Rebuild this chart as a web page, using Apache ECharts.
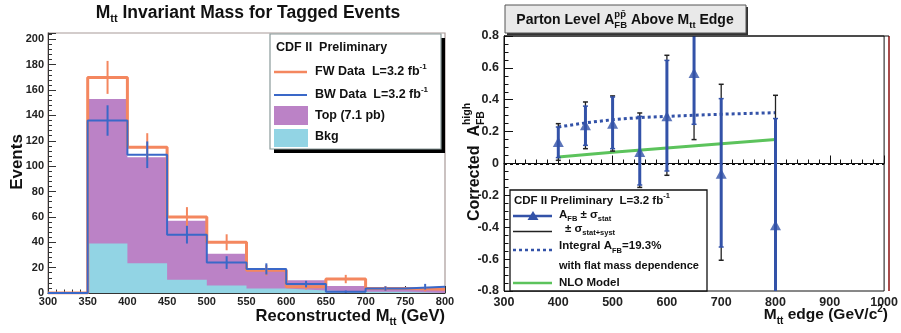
<!DOCTYPE html>
<html><head><meta charset="utf-8">
<script src="https://cdn.jsdelivr.net/npm/echarts@6/dist/echarts.min.js"></script>
<style>html,body{margin:0;padding:0;background:#fff}#c{width:901px;height:333px}</style>
</head><body><div id="c"></div>
<script>
// ---------- Left panel data (histograms, 50 GeV bins) ----------
const binEdges   = [300,350,400,450,500,550,600,650,700,750,800];
const fwCounts   = [0,170,115,60,40,18,5,11,3.5,3];
const fwErr      = [0,13,11,7.7,6.3,4.2,2.2,3.3,1.9,1.7];
const bwCounts   = [0,136,109,46,24,19,7,1,3.5,5];
const bwErr      = [0,12,10.5,7,5,4.4,2.6,1,1.7,2.2];
const topCounts  = [0,114,83.5,46.5,25,15.5,8,4.5,2.5,2.5];
const bkgCounts  = [0,39,23.5,10.5,6,3.5,2,1,1,0.5];
const leftYTicks = [0,20,40,60,80,100,120,140,160,180,200];

// ---------- Right panel data ----------
const edgeMass = [400,450,500,550,600,650,700,800];
const afb      = [0.135,0.24,0.25,0.072,0.296,0.568,-0.064,-0.388];
const statLo   = [0.037,0.114,0.093,-0.135,-0.047,0.246,-0.524,-0.85];
const statHi   = [0.229,0.36,0.417,0.296,0.647,0.85,0.407,0.282];
const systLo   = [0.02,0.093,0.078,-0.15,-0.074,0.15,-0.607,-0.9];
const systHi   = [0.25,0.386,0.424,0.317,0.679,0.95,0.497,0.428];
const integralX = [400,450,500,550,600,650,700,750,800];
const integralY = [0.229,0.255,0.275,0.288,0.296,0.303,0.309,0.314,0.319];
const nloX = [400,500,600,700,800];
const nloY = [0.041,0.07,0.098,0.124,0.15];

const FONT = '"Liberation Sans", Arial, Helvetica, sans-serif';
const ORANGE = '#f4875f', BLUE_H = '#3a68c8', MAG = '#bb82c6', CYAN = '#92d4e4';
const BLUE = '#3352a8', GREEN = '#5cc35c';

const cv = document.createElement('canvas').getContext('2d');
function tw(t, fs){ cv.font = 'bold ' + fs + 'px ' + FONT; return cv.measureText(t).width; }
// composite text: parts [{t, fs, dy, stack}]
function comp(parts, x, y, opts){
  opts = opts || {};
  const af = opts.align === 'right' ? 1 : (opts.align === 'center' ? 0.5 : 0);
  let cx = 0, prevStart = 0, prevW = 0; const items = [];
  parts.forEach(p => {
    const w = tw(p.t, p.fs); let start;
    if (p.stack) { start = prevStart; prevW = Math.max(prevW, w); cx = prevStart + prevW; }
    else { start = cx; cx += w; prevStart = start; prevW = w; }
    items.push({p, start});
  });
  const total = cx;
  const children = items.map(({p, start}) => ({
    type: 'text', x: start - total * af, y: p.dy || 0, z: 120,
    style: { text: p.t, font: 'bold ' + p.fs + 'px ' + FONT, fill: opts.color || '#111', align: 'left', verticalAlign: 'middle' }
  }));
  return { type: 'group', x, y, rotation: opts.rotation || 0, children, z: 120 };
}

function stepData(vals){
  const d = [];
  for (let i = 0; i < vals.length; i++) d.push([binEdges[i], vals[i]]);
  d.push([binEdges[vals.length], vals[vals.length - 1]]);
  return d;
}
const totalCounts = topCounts.map((v, i) => v + bkgCounts[i]);
const centers = binEdges.slice(0, -1).map((e, i) => (e + binEdges[i + 1]) / 2);

function errBar(color, vals, errs){
  return {
    type: 'custom', xAxisIndex: 0, yAxisIndex: 0, z: 6,
    data: centers.map((c, i) => [c, vals[i], errs[i]]),
    renderItem: (params, api) => {
      const x = api.value(0), v = api.value(1), e = api.value(2);
      if (!e) return null;
      const a = api.coord([x, v - e]), b = api.coord([x, v + e]);
      return { type: 'line', shape: { x1: a[0], y1: a[1], x2: b[0], y2: b[1] }, style: { stroke: color, lineWidth: 2 } };
    }
  };
}
function rangeBar(color, lo, hi, width, cap){
  return {
    type: 'custom', xAxisIndex: 1, yAxisIndex: 1, z: 5,
    data: edgeMass.map((m, i) => [m, lo[i], hi[i]]),
    renderItem: (params, api) => {
      const cs = params.coordSys;
      const x = api.value(0);
      const a = api.coord([x, api.value(1)]), b = api.coord([x, api.value(2)]);
      const yB = Math.min(a[1], cs.y + cs.height), yT = Math.max(b[1], cs.y);
      const ch = [{ type: 'line', shape: { x1: a[0], y1: yB, x2: a[0], y2: yT }, style: { stroke: color, lineWidth: width } }];
      if (a[1] <= cs.y + cs.height) ch.push({ type: 'line', shape: { x1: a[0] - cap, y1: yB, x2: a[0] + cap, y2: yB }, style: { stroke: color, lineWidth: 1.5 } });
      if (b[1] >= cs.y) ch.push({ type: 'line', shape: { x1: a[0] - cap, y1: yT, x2: a[0] + cap, y2: yT }, style: { stroke: color, lineWidth: 1.5 } });
      return { type: 'group', children: ch };
    }
  };
}

const chart = echarts.init(document.getElementById('c'), null, { renderer: 'canvas' });
const axLabL = { fontFamily: FONT, fontWeight: 'bold', fontSize: 11, color: '#222' };
const axLabR = { fontFamily: FONT, fontWeight: 'bold', fontSize: 12.5, color: '#222' };

const graphics = [
  // left title
  comp([{t:'M',fs:17.5},{t:'tt',fs:11,dy:6},{t:' Invariant Mass for Tagged Events',fs:17.5}], 248, 13, {align:'center'}),
  // left axis names
  comp([{t:'Reconstructed M',fs:16.5},{t:'tt',fs:10.5,dy:6},{t:' (GeV)',fs:16.5}], 445, 316, {align:'right'}),
  comp([{t:'Events',fs:17}], 17, 162, {align:'center', rotation: Math.PI/2}),
  // left legend
  { type:'rect', shape:{x:274,y:38,width:171,height:115}, style:{fill:'#000'}, z:90 },
  { type:'rect', shape:{x:270,y:34,width:171,height:115}, style:{fill:'#fff', stroke:'#8a9a9a', lineWidth:1.2}, z:91 },
  comp([{t:'CDF II  Preliminary',fs:12.5}], 276, 48),
  { type:'line', shape:{x1:274,y1:72,x2:307,y2:72}, style:{stroke:ORANGE,lineWidth:2.5}, z:100 },
  comp([{t:'FW Data  L=3.2 fb',fs:12.5},{t:'-1',fs:8,dy:-5}], 315, 72),
  { type:'line', shape:{x1:274,y1:95,x2:307,y2:95}, style:{stroke:BLUE_H,lineWidth:2}, z:100 },
  comp([{t:'BW Data  L=3.2 fb',fs:12.5},{t:'-1',fs:8,dy:-5}], 315, 95),
  { type:'rect', shape:{x:274,y:106,width:34,height:19}, style:{fill:MAG}, z:100 },
  comp([{t:'Top (7.1 pb)',fs:12.5}], 315, 116),
  { type:'rect', shape:{x:274,y:129,width:34,height:18}, style:{fill:CYAN}, z:100 },
  comp([{t:'Bkg',fs:12.5}], 315, 137),
  // right title box
  { type:'rect', shape:{x:507,y:7,width:241,height:28}, style:{fill:'#333'}, z:90 },
  { type:'rect', shape:{x:505,y:5,width:241,height:28}, style:{fill:'#e9e9e9', stroke:'#555', lineWidth:1}, z:91 },
  comp([{t:'Parton Level A',fs:14},{t:'pp\u0304',fs:9.5,dy:-6},{t:'FB',fs:9.5,dy:5,stack:true},{t:' Above M',fs:14},{t:'tt',fs:9.5,dy:5},{t:' Edge',fs:14}], 625, 20, {align:'center'}),
  // right axis names
  comp([{t:'M',fs:15.5},{t:'tt',fs:10,dy:6},{t:' edge (GeV/c',fs:15.5},{t:'2',fs:10,dy:-6},{t:')',fs:15.5}], 888, 315, {align:'right'}),
  comp([{t:'Corrected  A',fs:16},{t:'high',fs:10.5,dy:-8},{t:'FB',fs:10.5,dy:6,stack:true}], 475, 162, {align:'center', rotation: Math.PI/2}),
  // right frame edges
  { type:'line', shape:{x1:889,y1:36,x2:889,y2:291}, style:{stroke:'#8b1010',lineWidth:1.5}, z:80 },
  { type:'line', shape:{x1:504,y1:36,x2:889,y2:36}, style:{stroke:'#111',lineWidth:1}, z:80 },
  // right legend
  { type:'rect', shape:{x:510,y:190,width:197,height:101}, style:{fill:'#fff', stroke:'#111', lineWidth:1.3}, z:91 },
  comp([{t:'CDF II Preliminary  L=3.2 fb',fs:11.5},{t:'-1',fs:7.5,dy:-5}], 514, 201),
  { type:'line', shape:{x1:513,y1:216,x2:552,y2:216}, style:{stroke:BLUE,lineWidth:2.5}, z:100 },
  { type:'polygon', shape:{points:[[533,211],[527.5,220],[538.5,220]]}, style:{fill:BLUE}, z:101 },
  comp([{t:'A',fs:11.5},{t:'FB',fs:7.5,dy:4},{t:' \u00b1 \u03c3',fs:11.5},{t:'stat',fs:7.5,dy:4}], 559, 215),
  { type:'line', shape:{x1:513,y1:231.5,x2:552,y2:231.5}, style:{stroke:'#222',lineWidth:1.3}, z:100 },
  comp([{t:'\u00b1 \u03c3',fs:11.5},{t:'stat+syst',fs:7.5,dy:4}], 565, 229),
  { type:'line', shape:{x1:513,y1:250,x2:552,y2:250}, style:{stroke:BLUE,lineWidth:2.5,lineDash:[3,3]}, z:100 },
  comp([{t:'Integral A',fs:11.5},{t:'FB',fs:7.5,dy:5},{t:'=19.3%',fs:11.5}], 559, 246),
  comp([{t:'with flat mass dependence',fs:11}], 559, 266),
  { type:'line', shape:{x1:513,y1:283,x2:552,y2:283}, style:{stroke:GREEN,lineWidth:2.5}, z:100 },
  comp([{t:'NLO Model',fs:11.5}], 559, 283)
];

const option = {
  animation: false,
  backgroundColor: '#fff',
  grid: [
    { left: 48, top: 33, width: 397, height: 260, show: true, borderColor: '#a89a98', borderWidth: 1.2, backgroundColor: 'transparent' },
    { left: 504, top: 36, width: 385, height: 255, show: true, borderColor: '#111', borderWidth: 1, backgroundColor: 'transparent' }
  ],
  xAxis: [
    { type: 'value', gridIndex: 0, min: 300, max: 800, interval: 50,
      axisLine: { show: true, lineStyle: { color: '#333' } },
      axisTick: { inside: true, length: 7, lineStyle: { color: '#333' } },
      minorTick: { show: true, splitNumber: 5, length: 3.5, lineStyle: { color: '#333' } },
      splitLine: { show: false }, axisLabel: Object.assign({ margin: 3, formatter: v => String(v) }, axLabL) },
    { type: 'value', gridIndex: 1, min: 300, max: 1000, interval: 100,
      axisLine: { show: true, lineStyle: { color: '#111' } },
      axisTick: { inside: true, length: 8, lineStyle: { color: '#111' } },
      minorTick: { show: true, splitNumber: 5, length: 4, lineStyle: { color: '#111' } },
      splitLine: { show: false }, axisLabel: Object.assign({ margin: 5, formatter: v => String(v) }, axLabR) }
  ],
  yAxis: [
    { type: 'value', gridIndex: 0, min: 0, max: 205, interval: 20,
      axisLine: { show: true, lineStyle: { color: '#333' } },
      axisTick: { inside: true, length: 8, lineStyle: { color: '#333' } },
      minorTick: { show: true, splitNumber: 5, length: 4, lineStyle: { color: '#333' } },
      splitLine: { show: false },
      axisLabel: Object.assign({ margin: 4, formatter: v => leftYTicks.indexOf(v) >= 0 ? String(v) : '' }, axLabL) },
    { type: 'value', gridIndex: 1, min: -0.8, max: 0.8, interval: 0.2,
      axisLine: { show: true, lineStyle: { color: '#111' } },
      axisTick: { inside: true, length: 9, lineStyle: { color: '#111' } },
      minorTick: { show: true, splitNumber: 4, length: 4.5, lineStyle: { color: '#111' } },
      splitLine: { show: false },
      axisLabel: Object.assign({ margin: 5, formatter: v => { const r = Math.round(v * 10) / 10; return r === 0 ? '0' : String(r); } }, axLabR) }
  ],
  series: [
    { type: 'line', xAxisIndex: 0, yAxisIndex: 0, step: 'end', symbol: 'none', data: stepData(totalCounts),
      lineStyle: { width: 0 }, areaStyle: { color: MAG, opacity: 1 }, z: 2 },
    { type: 'line', xAxisIndex: 0, yAxisIndex: 0, step: 'end', symbol: 'none', data: stepData(bkgCounts),
      lineStyle: { width: 0 }, areaStyle: { color: CYAN, opacity: 1 }, z: 3 },
    { type: 'line', xAxisIndex: 0, yAxisIndex: 0, step: 'end', symbol: 'none', data: stepData(fwCounts),
      lineStyle: { width: 3, color: ORANGE }, z: 4 },
    { type: 'line', xAxisIndex: 0, yAxisIndex: 0, step: 'end', symbol: 'none', data: stepData(bwCounts),
      lineStyle: { width: 2, color: BLUE_H }, z: 5 },
    errBar(ORANGE, fwCounts, fwErr),
    errBar(BLUE_H, bwCounts, bwErr),
    // right panel
    { type: 'line', xAxisIndex: 1, yAxisIndex: 1, symbol: 'none', data: nloX.map((x, i) => [x, nloY[i]]),
      lineStyle: { width: 3, color: GREEN }, z: 3,
      markLine: { silent: true, symbol: 'none', label: { show: false },
        lineStyle: { color: '#111', type: [3, 3], width: 1.8 }, data: [{ yAxis: 0 }] } },
    { type: 'line', xAxisIndex: 1, yAxisIndex: 1, symbol: 'none', data: integralX.map((x, i) => [x, integralY[i]]),
      lineStyle: { width: 3, color: BLUE, type: [3, 3] }, z: 3 },
    rangeBar('#222', systLo, systHi, 1.3, 2.5),
    rangeBar(BLUE, statLo, statHi, 3, 2.5),
    { type: 'scatter', xAxisIndex: 1, yAxisIndex: 1, symbol: 'triangle', symbolSize: [11, 10],
      data: edgeMass.map((m, i) => [m, afb[i]]), itemStyle: { color: BLUE }, z: 7 }
  ],
  graphic: graphics
};
chart.setOption(option);
</script></body></html>
